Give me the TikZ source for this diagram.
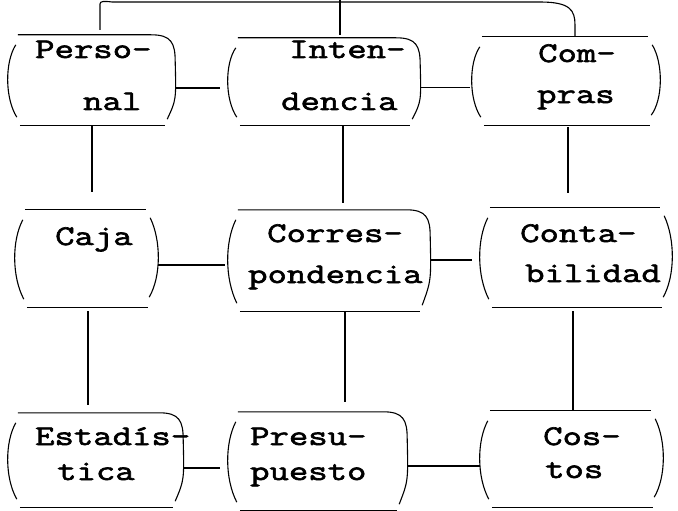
\documentclass[tikz,border=0pt]{standalone}
\usepackage{fontspec}
\newfontfamily\tw{Latin Modern Mono}[FakeStretch=1.32, FakeBold=2.2]
\usetikzlibrary{calc}
\tikzset{
  ln/.style={line width=1.1pt, black},
  bx/.style={draw=none, inner sep=0pt, rectangle},
  txt/.style={inner sep=0pt, anchor=base west, font=\tw\fontsize{28.5}{30}\selectfont},
}
% box with parentheses sides
\newcommand\pbox[1]{%
  \draw[ln] ($(#1.north west)+(10,0)$) -- ($(#1.north east)+(-12,0)$);
  \draw[ln] ($(#1.south west)+(12,0)$) -- ($(#1.south east)+(-10,0)$);
  \draw[ln] ($(#1.north west)+(8,10)$) .. controls ($(#1.west)+(-3,-18)$) and ($(#1.west)+(-3,18)$) .. ($(#1.south west)+(9,-8)$);
  \draw[ln] ($(#1.north east)+(-8,8)$) .. controls ($(#1.east)+(3,-18)$) and ($(#1.east)+(3,18)$) .. ($(#1.south east)+(-9,-10)$);
}
% box whose top line runs into a rounded right side
\newcommand\rbox[1]{%
  \draw[ln] ($(#1.north west)+(10,0)$) -- ($(#1.north east)+(-24,0)$)
     .. controls ($(#1.north east)+(-4,0)$) and ($(#1.north east)+(0,8)$) .. ($(#1.north east)+(0,27)$)
     .. controls ($(#1.east)+(1,20)$) .. ($(#1.south east)+(-8,-6)$);
  \draw[ln] ($(#1.south west)+(12,0)$) -- ($(#1.south east)+(-10,0)$);
  \draw[ln] ($(#1.north west)+(8,10)$) .. controls ($(#1.west)+(-3,-18)$) and ($(#1.west)+(-3,18)$) .. ($(#1.south west)+(9,-8)$);
}
\begin{document}
\begin{tikzpicture}[x=1pt,y=-1pt]
\useasboundingbox (0,0) rectangle (678,511);
% box nodes
\node[bx, minimum width=167pt, minimum height=90pt]  (P)  at (91.5,80)   {};
\node[bx, minimum width=192pt, minimum height=87pt]  (I)  at (324,81.5)  {};
\node[bx, minimum width=188pt, minimum height=88pt]  (C)  at (566,81)    {};
\node[bx, minimum width=143pt, minimum height=97pt]  (Ca) at (86.5,258.5){};
\node[bx, minimum width=202pt, minimum height=101pt] (Co) at (329,260.5) {};
\node[bx, minimum width=192pt, minimum height=99pt]  (Ct) at (576,257.5) {};
\node[bx, minimum width=175pt, minimum height=94pt]  (E)  at (95.5,460)  {};
\node[bx, minimum width=179pt, minimum height=98pt]  (Pr) at (317.5,461) {};
\node[bx, minimum width=183pt, minimum height=96pt]  (Cs) at (571.5,459) {};
\rbox{P}\rbox{I}\pbox{C}
\pbox{Ca}\rbox{Co}\pbox{Ct}
\rbox{E}\rbox{Pr}\pbox{Cs}
% texts
\node[txt] (tP1) at (35,58) {Perso-};
\node[txt] (tP2) at (83,110) {nal};
\node[txt] (tI1) at (289,58) {Inten-};
\node[txt] (tI2) at (281,110) {dencia};
\node[txt] (tC1) at (538,62) {Com-};
\node[txt] (tC2) at (537,103) {pras};
\node[txt] (tCa) at (55,245) {Caja};
\node[txt] (tCo1) at (267,242) {Corres-};
\node[txt] (tCo2) at (248,283) {pondencia};
\node[txt] (tCt1) at (520,242) {Conta-};
\node[txt] (tCt2) at (525,282) {bilidad};
\node[txt] (tE1) at (35,445) {Estadís-};
\node[txt] (tE2) at (57,480) {tica};
\node[txt] (tPr1) at (250,445) {Presu-};
\node[txt] (tPr2) at (250,480) {puesto};
\node[txt] (tCs1) at (543,445) {Cos-};
\node[txt] (tCs2) at (545,478) {tos};
% top connector
\coordinate (tl) at (100,4);
\draw[ln] ($(P.north)+(8.5,-5)$) -- (tl) .. controls (100,1) and (104,1) .. (112,2)
   -- (540,2) .. controls (570,2) and (575,10) .. (575,25) -- ($(C.north)+(9,0)$);
\draw[ln] ($(I.north)+(16,-3)$) -- ($(I.north)+(16,-38)$);
% horizontal connectors
\draw[ln] ($(P.east)+(0,8)$) -- ($(P.east -| I.west)+(-8,8)$);
\draw[ln] ($(I.east)+(0,6)$) -- ($(I.east -| C.west)+(-2,6)$);
\draw[ln] ($(Ca.east)+(0,6.5)$) -- ($(Ca.east -| Co.west)+(-3,6.5)$);
\draw[ln] ($(Co.east)+(0,-0.5)$) -- ($(Co.east -| Ct.west)+(-8,-0.5)$);
\draw[ln] ($(E.east)+(0,8)$) -- ($(E.east -| Pr.west)+(-8,8)$);
\draw[ln] ($(Pr.east)+(0,5)$) -- ($(Pr.east -| Cs.west)+(0,5)$);
% vertical connectors
\draw[ln] ($(P.south)+(0.5,0)$) -- ($(P.south |- Ca.north)+(0.5,-18)$);
\draw[ln] ($(I.south)+(19,0)$) -- ($(I.south |- Co.north)+(19,-7)$);
\draw[ln] ($(C.south)+(2,2)$) -- ($(C.south |- Ct.north)+(2,-15)$);
\draw[ln] ($(Ca.south)+(1.5,4)$) -- ($(Ca.south |- E.north)+(1.5,-8)$);
\draw[ln] ($(Co.south)+(16,0)$) -- ($(Co.south |- Pr.north)+(16,-10)$);
\draw[ln] ($(Ct.south)+(-3,4)$) -- ($(Ct.south |- Cs.north)+(-3,0)$);
\end{tikzpicture}
\end{document}
